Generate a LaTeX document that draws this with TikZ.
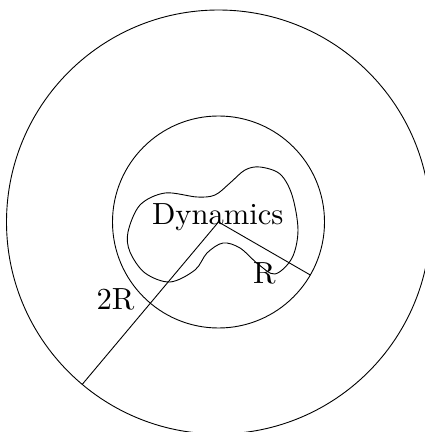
\documentclass[tikz,border=0pt]{standalone}
\usepackage{fontspec}
\begin{document}
\begin{tikzpicture}[x=1pt,y=1pt,
  curve/.style={line width=0.9pt},
  lbl/.style={inner sep=0pt,anchor=base}]
\useasboundingbox (0,0) rectangle (425,432);
\clip (0,0) rectangle (425,432);
\coordinate (c) at (218.5,210);
\draw[curve] (c) circle[radius=212];
\draw[curve] (c) circle[radius=106];
\draw[curve] plot[smooth cycle, tension=0.55] coordinates {
  (128,200) (140,227) (165,239) (197,235) (215,237) (230,249) (245,262)
  (260,265) (280,258) (292,237) (298,202) (292,174) (275,158) (258,168)
  (240,184) (223,189) (207,179) (195,162) (170,150) (145,159) (130,180)};
\path (c) ++(230:212) coordinate (e2);
\path (c) ++(-30:106) coordinate (e1);
\node[lbl] (dyn) at (217.8,207.7) {\scalebox{3.06}{Dynamics}};
\node[lbl] (l2r) at (115.5,122) {\scalebox{3.06}{2R}};
\node[lbl] (lr) at (264.5,148.7) {\scalebox{3.06}{R}};
\draw[curve] (c) -- (e2);
\draw[curve] (c) -- (e1);
\end{tikzpicture}
\end{document}
